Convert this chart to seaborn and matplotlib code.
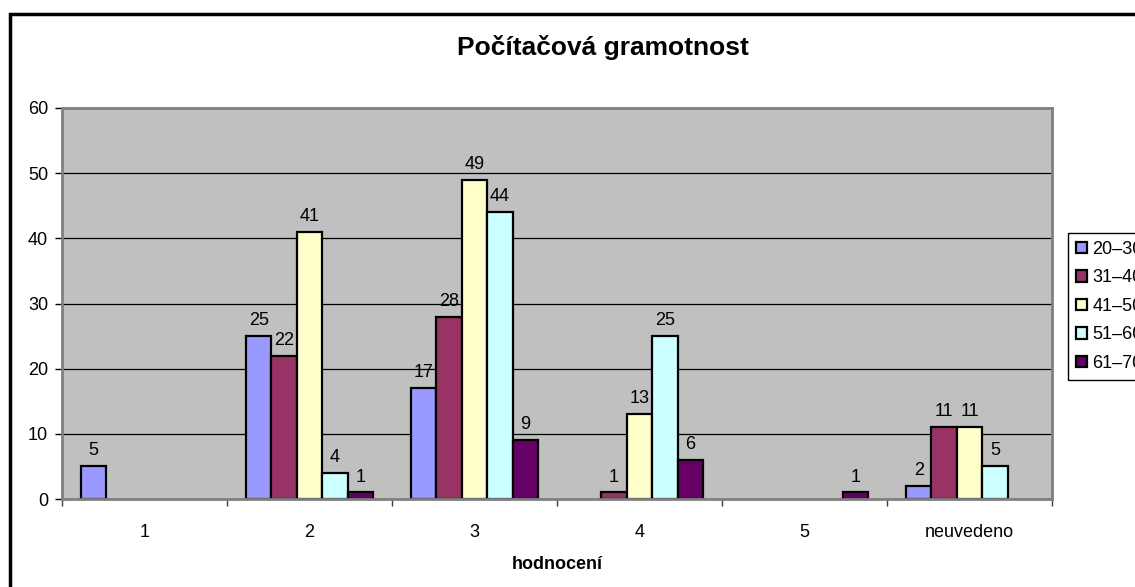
import matplotlib
matplotlib.use("Agg")
import matplotlib.pyplot as plt
from matplotlib.patches import Rectangle
import seaborn as sns
import pandas as pd
import numpy as np

categories = ["1", "2", "3", "4", "5", "neuvedeno"]
age_groups = ["20–30", "31–40", "41–50", "51–60", "61–70"]
values = {
    "20–30": [5, 25, 17, 0, 0, 2],
    "31–40": [0, 22, 28, 1, 0, 11],
    "41–50": [0, 41, 49, 13, 0, 11],
    "51–60": [0, 4, 44, 25, 0, 5],
    "61–70": [0, 1, 9, 6, 1, 0],
}
colors = ["#9999FF", "#993366", "#FFFFCC", "#CCFFFF", "#660066"]
title = "Počítačová gramotnost"
xlabel = "hodnocení"
yticks = [0, 10, 20, 30, 40, 50, 60]

rows = []
for g in age_groups:
    for c, v in zip(categories, values[g]):
        rows.append({"hodnocení": c, "počet": v, "věk": g})
df = pd.DataFrame(rows)
df_plot = df[df["počet"] > 0]

sns.set_theme(style="white")
plt.rcParams["font.family"] = ["Liberation Sans", "DejaVu Sans"]
plt.rcParams["text.color"] = "black"
plt.rcParams["xtick.color"] = "black"
plt.rcParams["ytick.color"] = "black"
plt.rcParams["axes.labelcolor"] = "black"

FS = 13

W, H = 1135, 587
fig = plt.figure(figsize=(W / 100, H / 100), dpi=100)
fig.patch.set_facecolor("white")
ax = fig.add_axes([62 / W, 1 - 499 / H, (1052 - 62) / W, (499 - 108) / H])
ax.set_facecolor("#C0C0C0")

sns.barplot(data=df_plot, x="hodnocení", y="počet", hue="věk",
            order=categories, hue_order=age_groups, palette=colors,
            width=0.77, edgecolor="black", linewidth=1.6, errorbar=None,
            saturation=1, ax=ax, legend=True)

for cont in ax.containers:
    ax.bar_label(cont, labels=[f"{int(b.get_height())}" for b in cont],
                 padding=5, fontsize=FS, color="black")

ax.set_xlim(-0.5, len(categories) - 0.5)
ax.set_ylim(0, 60)
ax.set_yticks(yticks)
ax.yaxis.grid(True, color="black", linewidth=0.9)
ax.set_axisbelow(True)
for s in ax.spines.values():
    s.set_color("#808080")
    s.set_linewidth(2)
    s.set_visible(True)

ax.tick_params(axis="y", which="major", left=True, length=5, width=1,
               color="black", labelsize=FS, pad=5, labelcolor="black")
ax.tick_params(axis="x", which="major", bottom=True, length=0,
               labelsize=FS, pad=18, labelcolor="black")
ax.set_xticks(np.arange(-0.5, len(categories), 1.0), minor=True)
ax.tick_params(axis="x", which="minor", bottom=True, length=5, width=1,
               color="#404040")
ax.set_ylabel("")
ax.set_xlabel(xlabel, fontsize=FS, fontweight="bold", labelpad=11,
              color="black")

handles, labels = ax.get_legend_handles_labels()
ax.get_legend().remove()
fig.legend(handles, labels, loc="upper left",
           bbox_to_anchor=(1068 / W, 1 - 233 / H), frameon=True,
           fancybox=False, edgecolor="black", fontsize=FS,
           handlelength=0.6, handleheight=0.6, handletextpad=0.3,
           labelspacing=0.63, borderpad=0.45, borderaxespad=0,
           framealpha=1, labelcolor="black")

fig.text(603 / W, 1 - 47 / H, title, ha="center", va="center",
         fontsize=19, fontweight="bold", color="black")

fig.patches.append(Rectangle((10 / W, -0.05), 1.2, 1 - 14 / H + 0.05,
                             transform=fig.transFigure, fill=False,
                             edgecolor="black", linewidth=2.5))

fig.savefig("out.png", dpi=100)
